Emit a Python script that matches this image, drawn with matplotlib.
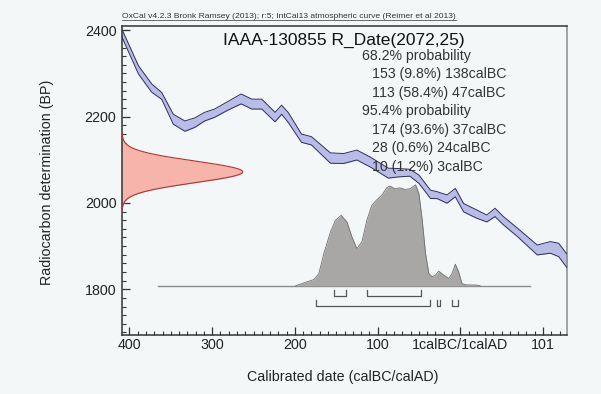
import matplotlib
matplotlib.use('Agg')
import matplotlib.pyplot as plt
import numpy as np

plt.rcParams['font.family'] = ['Liberation Sans', 'DejaVu Sans']

bg = '#f4f7f8'
band_fill = '#b9bce7'
band_edge = '#2b2d5c'
red_fill = '#f6b4ab'
red_edge = '#b03434'
grey_fill = '#a9a6a6'
grey_edge = '#6e6e6e'

# IntCal13 curve (year AD, BC negative; BP mean and 1 sigma)
cal_year = [-412, -408, -388, -372, -360, -346, -332, -320, -308, -296, -280,
            -264, -251, -239, -223, -215, -207, -191, -179, -156, -140, -124,
            -108, -86, -74, -60, -49, -35, -27, -15, -5, 5, 21, 33, 43, 53,
            70, 94, 110, 120, 129, 133]
cal_bp = [2405, 2393, 2308, 2266, 2248, 2194, 2178, 2186, 2200, 2208, 2225,
          2241, 2229, 2229, 2199, 2216, 2198, 2150, 2144, 2104, 2103, 2111,
          2095, 2069, 2070, 2070, 2055, 2020, 2018, 2009, 2024, 1989, 1974,
          1964, 1978, 1959, 1932, 1891, 1897, 1891, 1868, 1860]
cal_sig = [9, 9, 9.6, 9.6, 8, 11.5, 12, 11, 10, 9.6, 10, 11.5, 11.5, 11.5, 11,
           10.5, 11.5, 9.6, 9.6, 12, 11.5, 11.5, 11.5, 11.5, 9.7, 8, 9.6, 9.6,
           8, 9.6, 9.7, 9.7, 9.6, 8, 9.7, 9.6, 9.7, 11.5, 13.5, 15.5, 15.7, 16]

# radiocarbon measurement
r_name = 'IAAA-130855'
r_mean = 2072
r_err = 25

# calibrated probability (relative height)
post_year = [-198, -188, -176, -170, -164, -156, -150, -143, -136, -130, -124,
             -118, -112, -106, -100, -94, -88, -84, -78, -72, -66, -60, -53,
             -49, -45, -41, -37, -33, -29, -25, -19, -13, -9, -5, -1, 3, 7,
             21, 25]
post_prob = [0, 3, 6.3, 12.3, 32.3, 54, 65.7, 70.7, 64, 49, 37.3, 44, 65.7,
             80.7, 86.3, 90.7, 98.3, 100, 97.3, 98.3, 96.7, 97.3, 101.3, 92.3,
             65.7, 32.3, 12.3, 9, 10.7, 14.7, 10.7, 7.3, 12.3, 21.7, 14, 2.3,
             1, 0.7, 0]

# highest posterior density ranges, calBC
hpd68 = [(153, 138, 9.8), (113, 47, 58.4)]
hpd95 = [(174, 37, 93.6), (28, 24, 0.6), (10, 3, 1.2)]

xticks = [-399, -299, -199, -99, 1, 101]
xticklabels = ['400', '300', '200', '100', '1calBC/1calAD', '101']
yticks = [1800, 2000, 2200, 2400]

xmin, xmax = -408, 130
ymin, ymax = 1694, 2410

fig = plt.figure(figsize=(6.01, 3.94), dpi=100, facecolor=bg)
ax = fig.add_axes([122 / 601, 1 - 335 / 394, 445 / 601, 309 / 394])
ax.set_facecolor(bg)
ax.set_xlim(xmin, xmax)
ax.set_ylim(ymin, ymax)

# calibration curve band
cal_year = np.array(cal_year)
lo = np.array(cal_bp) - np.array(cal_sig)
hi = np.array(cal_bp) + np.array(cal_sig)
ax.fill_between(cal_year, lo, hi, color=band_fill, lw=0, zorder=2)
ax.plot(cal_year, lo, color=band_edge, lw=0.7, zorder=3)
ax.plot(cal_year, hi, color=band_edge, lw=0.7, zorder=3)

# measurement on the y axis
bp = np.linspace(r_mean - 3.5 * r_err, r_mean + 3.5 * r_err, 300)
dens = np.exp(-0.5 * ((bp - r_mean) / r_err) ** 2)
ax.fill_betweenx(bp, xmin, xmin + 146 * dens, color=red_fill, lw=0, zorder=2)
ax.plot(xmin + 146 * dens, bp, color=red_edge, lw=0.8, zorder=3)

# calibrated distribution
base = 1808
post_prob = np.array(post_prob)
top = base + 234 * post_prob / post_prob.max()
ax.plot([-364, 85], [base, base], color='#8a8a8a', lw=1, zorder=2)
ax.fill_between(post_year, base, top, color=grey_fill, lw=0, zorder=4)
ax.plot(post_year, top, color=grey_edge, lw=0.6, zorder=5)


def bracket(r, y, h):
    x0, x1 = 1 - r[0], 1 - r[1]
    ax.plot([x0, x0, x1, x1], [y + h, y, y, y + h], color='#555555',
            lw=0.9, zorder=5)


for r in hpd68:
    bracket(r, 1784.5, 14)
for r in hpd95:
    bracket(r, 1762, 13)

# ticks and spines
ax.set_xticks(xticks)
ax.set_xticklabels(xticklabels)
ax.set_xticks(np.arange(-399, 130, 10), minor=True)
ax.set_yticks(yticks)
ax.set_yticks(np.arange(1700, 2411, 20), minor=True)
ax.tick_params(which='both', direction='in', colors='#333333',
               labelsize=10.3, labelcolor='#222222')
ax.tick_params(which='major', length=6, width=0.9)
ax.tick_params(which='minor', length=3, width=0.8)
ax.tick_params(axis='x', pad=2)
ax.tick_params(axis='y', pad=4)
for side in ['left', 'bottom', 'top']:
    ax.spines[side].set_color('#333333')
    ax.spines[side].set_linewidth(1.1)
ax.spines['right'].set_color('#8c8c8c')
ax.spines['right'].set_linewidth(1.1)

fig.text(47 / 601, 1 - 182 / 394, 'Radiocarbon determination (BP)',
         rotation=90, ha='center', va='center', fontsize=10.3, color='#222222')
fig.text(343 / 601, 1 - 376.6 / 394, 'Calibrated date (calBC/calAD)',
         ha='center', va='center', fontsize=10.3, color='#222222')

# header and results text
hdr = ax.text(0, 1.018, 'OxCal v4.2.3 Bronk Ramsey (2013); r:5; IntCal13 '
              'atmospheric curve (Reimer et al 2013)',
              transform=ax.transAxes, fontsize=6.1, color='#333333',
              va='bottom', ha='left')
ax.text(0.4978, 0.952, '%s R_Date(%d,%d)' % (r_name, r_mean, r_err),
        transform=ax.transAxes, fontsize=12.5, ha='center', va='center',
        color='#111111')

lines = [(0.5387, '68.2% probability')]
for a, b, p in hpd68:
    lines.append((0.5611, '%d (%.1f%%) %dcalBC' % (a, p, b)))
lines.append((0.5387, '95.4% probability'))
for a, b, p in hpd95:
    lines.append((0.5611, '%d (%.1f%%) %dcalBC' % (a, p, b)))
for i, (x, s) in enumerate(lines):
    ax.text(x, 0.9029 - 0.0597 * i, s, transform=ax.transAxes, fontsize=10.2,
            ha='left', va='center', color='#333333', zorder=6)

# underline the header
fig.canvas.draw()
bb = hdr.get_window_extent().transformed(fig.transFigure.inverted())
fig.add_artist(plt.Line2D([bb.x0, bb.x1], [bb.y0 + 0.002, bb.y0 + 0.002],
                          transform=fig.transFigure, color='#333333', lw=0.5))

plt.savefig('out.png', dpi=100, facecolor=bg)
